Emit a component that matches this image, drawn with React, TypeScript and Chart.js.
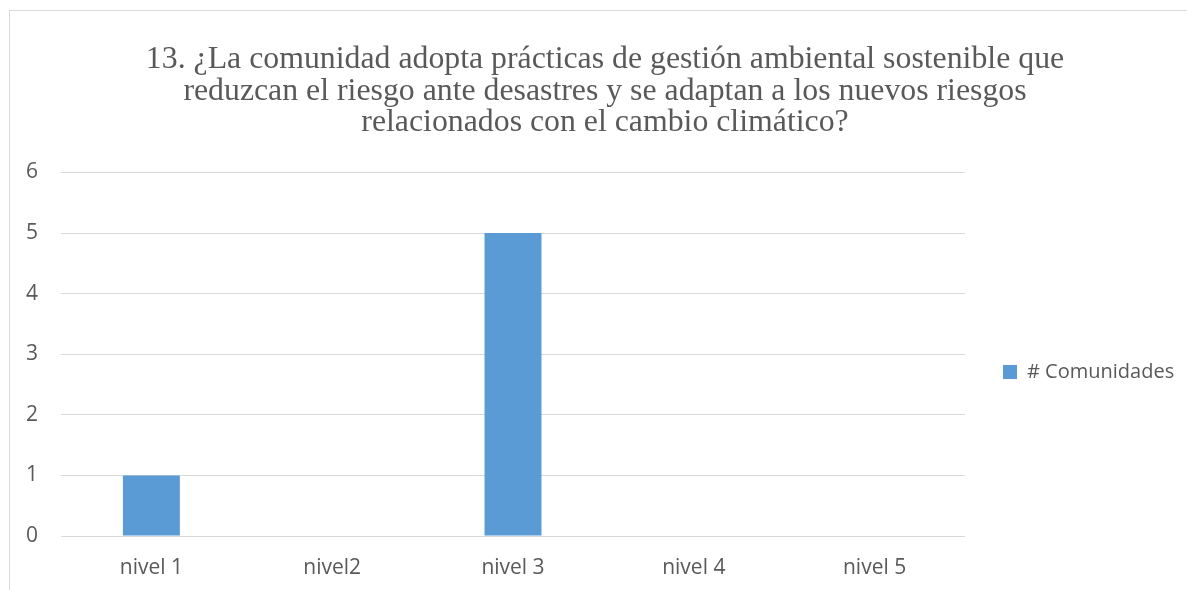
import React, { useEffect, useRef } from "react";
import { Chart, registerables } from "chart.js";

Chart.register(...registerables);

const titleLines = [
  "13. ¿La comunidad adopta prácticas de gestión ambiental sostenible que",
  "reduzcan el riesgo ante desastres y se adaptan a los nuevos riesgos",
  "relacionados con el cambio climático?",
];
const categories = ["nivel 1", "nivel2", "nivel 3", "nivel 4", "nivel 5"];
const seriesName = "# Comunidades";
const seriesValues = [1, 0, 5, 0, 0];
const yTicks = [0, 1, 2, 3, 4, 5, 6];

const CANVAS_W = 1210;
const CANVAS_H = 744;
const PLOT_LEFT = 61;
const PLOT_RIGHT = 965;
const PLOT_BOTTOM = 536;
const LEGEND_PAD = 38;
const LEGEND_BOX = 14;
const LEGEND_FONT = 20;
const FONT = '"Open Sans", "DejaVu Sans", sans-serif';

export default function App() {
  const ref = useRef<HTMLCanvasElement | null>(null);

  useEffect(() => {
    const canvas = ref.current;
    if (!canvas) return;
    const mctx = document.createElement("canvas").getContext("2d")!;
    mctx.font = `${LEGEND_FONT}px ${FONT}`;
    const textW = mctx.measureText(seriesName).width;
    const legendW = LEGEND_PAD + LEGEND_BOX + LEGEND_FONT / 2 + textW + 10;
    const padSide = Math.max(0, Math.min(40, CANVAS_W - (PLOT_RIGHT + legendW)));

    const chart = new Chart(canvas, {
      type: "bar",
      data: {
        labels: categories,
        datasets: [
          {
            label: seriesName,
            data: seriesValues,
            backgroundColor: "#5B9BD5",
            borderWidth: 0,
            categoryPercentage: 1,
            barPercentage: 0.315,
          },
        ],
      },
      options: {
        responsive: false,
        animation: false,
        devicePixelRatio: 1,
        layout: { padding: { left: padSide, right: padSide, top: 0, bottom: 0 } },
        plugins: {
          title: {
            display: true,
            text: titleLines,
            color: "#595959",
            font: {
              family: '"Liberation Serif", "Times New Roman", serif',
              size: 31.8,
              weight: "normal",
              lineHeight: 0.99,
            },
            padding: { top: 44, bottom: 34 },
          },
          legend: {
            position: "right",
            align: "center",
            labels: {
              boxWidth: LEGEND_BOX,
              boxHeight: LEGEND_BOX,
              padding: LEGEND_PAD,
              color: "#595959",
              font: { family: FONT, size: LEGEND_FONT },
            },
          },
          tooltip: { enabled: false },
        },
        scales: {
          x: {
            grid: { display: false, drawTicks: false },
            border: { display: false },
            ticks: {
              color: "#595959",
              font: { family: FONT, size: 21 },
              padding: 19,
              maxRotation: 0,
            },
            afterFit: (s: any) => {
              s.height = CANVAS_H - PLOT_BOTTOM;
            },
          },
          y: {
            min: 0,
            max: 6,
            afterBuildTicks: (s: any) => {
              s.ticks = yTicks.map((v) => ({ value: v }));
            },
            grid: { color: "#D9D9D9", lineWidth: 1, drawTicks: false },
            border: { display: false },
            ticks: {
              color: "#595959",
              font: { family: FONT, size: 21 },
              padding: 23,
            },
            afterFit: (s: any) => {
              s.width = PLOT_LEFT - padSide;
            },
          },
        },
      },
    });
    return () => chart.destroy();
  }, []);

  return (
    <div
      style={{
        position: "fixed",
        left: 0,
        top: 0,
        width: 1187,
        height: 590,
        overflow: "hidden",
        background: "#ffffff",
      }}
    >
      <div
        style={{
          position: "absolute",
          left: 9,
          top: 10,
          width: 1400,
          height: 900,
          borderLeft: "1px solid #D9D9D9",
          borderTop: "1px solid #D9D9D9",
        }}
      />
      <canvas
        ref={ref}
        width={CANVAS_W}
        height={CANVAS_H}
        style={{ position: "absolute", left: 0, top: 0, width: CANVAS_W, height: CANVAS_H }}
      />
    </div>
  );
}
